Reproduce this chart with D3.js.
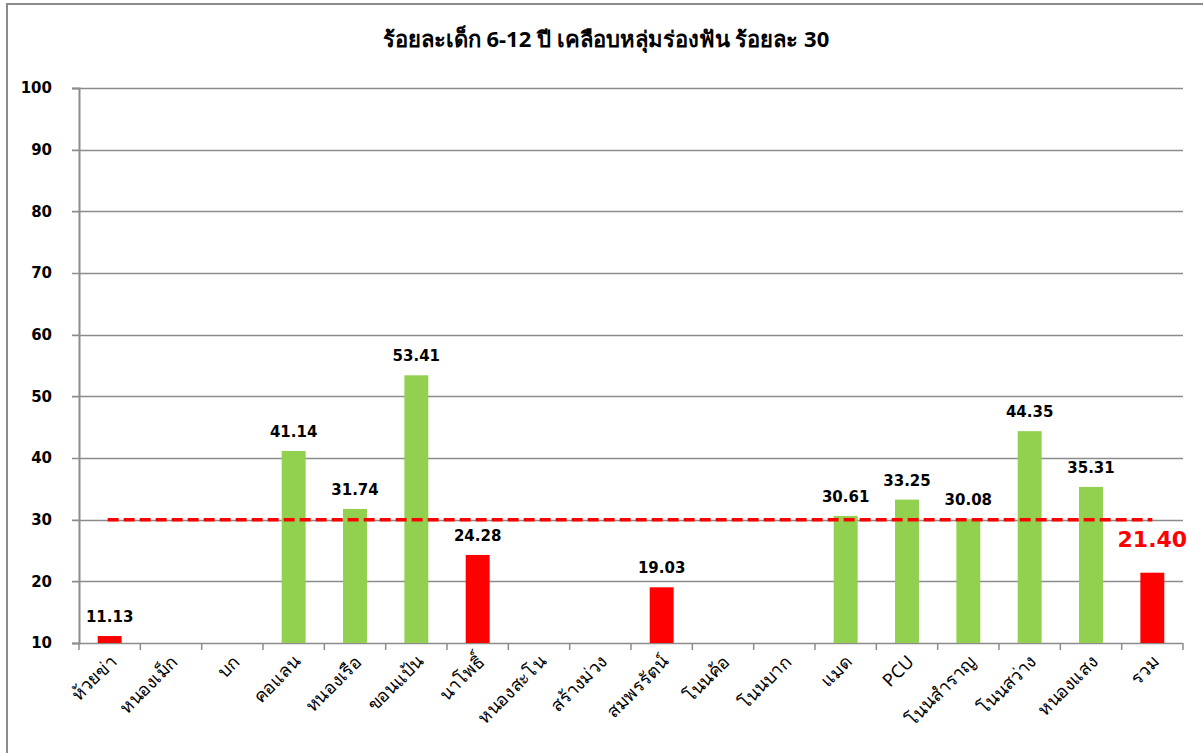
<!DOCTYPE html>
<html>
<head>
<meta charset="utf-8">
<script src="https://cdn.jsdelivr.net/npm/d3@7"></script>
<style>
  body { margin: 0; background: #fff; }
  svg { display: block; font-family: Tahoma, "Noto Sans", "DejaVu Sans", sans-serif; }
  .num { font-family: "DejaVu Sans", sans-serif; }
</style>
</head>
<body>
<script>
// data
var categories = ['ห้วยข่า', 'หนองเม็ก', 'บก', 'คอแลน', 'หนองเรือ', 'ขอนแป้น', 'นาโพธิ์', 'หนองสะโน',
  'สร้างม่วง', 'สมพรรัตน์', 'โนนค้อ', 'โนนบาก', 'แมด', 'PCU', 'โนนสำราญ', 'โนนสว่าง', 'หนองแสง', 'รวม'];
var values = [11.13, null, null, 41.14, 31.74, 53.41, 24.28, null,
  null, 19.03, null, null, 30.61, 33.25, 30.08, 44.35, 35.31, 21.40];
var yTicks = [10, 20, 30, 40, 50, 60, 70, 80, 90, 100];
var target = 30;
var title = 'ร้อยละเด็ก 6-12 ปี เคลือบหลุ่มร่องฟัน ร้อยละ 30';

var W = 1203, H = 753;
var m = {left: 79, right: 20, top: 88, bottom: 110};

var svg = d3.select('body').append('svg')
    .attr('width', W)
    .attr('height', H);

// outer frame (runs off right and bottom)
svg.append('rect')
    .attr('x', 7).attr('y', 4)
    .attr('width', W + 10).attr('height', H + 10)
    .attr('fill', 'none')
    .attr('stroke', '#8c8c8c')
    .attr('stroke-width', 2);

svg.append('text')
    .attr('x', 606).attr('y', 47)
    .attr('text-anchor', 'middle')
    .style('font-size', '22px')
    .style('font-weight', 'bold')
    .text(title);

var x = d3.scaleBand()
    .domain(categories)
    .range([m.left, W - m.right])
    .paddingInner(0.61)
    .paddingOuter(0.305);

var y = d3.scaleLinear()
    .domain([10, 100])
    .range([H - m.bottom, m.top]);

// gridlines
svg.append('g').selectAll('line')
    .data(yTicks)
    .enter().append('line')
    .attr('x1', m.left - 7)
    .attr('x2', W - m.right)
    .attr('y1', function(d){ return Math.round(y(d)) + 0.5; })
    .attr('y2', function(d){ return Math.round(y(d)) + 0.5; })
    .attr('stroke', '#8c8c8c')
    .attr('stroke-width', 1.5);

// y axis
var yAxis = svg.append('g')
    .attr('transform', 'translate(' + m.left + ',0)')
    .call(d3.axisLeft(y).tickValues(yTicks).tickSize(7).tickPadding(20));
yAxis.select('.domain').attr('stroke', '#8c8c8c').attr('stroke-width', 2);
yAxis.selectAll('.tick line').attr('stroke', '#8c8c8c');
yAxis.selectAll('text')
    .attr('class', 'num')
    .style('font-size', '15px')
    .style('font-weight', 'bold')
    .attr('fill', '#000');

// x axis ticks between categories
var step = x.step();
var tickPos = d3.range(categories.length + 1).map(function(i){ return m.left + i * step; });
svg.append('g').selectAll('line')
    .data(tickPos)
    .enter().append('line')
    .attr('x1', function(d){ return d; })
    .attr('x2', function(d){ return d; })
    .attr('y1', y(10))
    .attr('y2', y(10) + 7)
    .attr('stroke', '#8c8c8c')
    .attr('stroke-width', 1.5);

// x labels at -45 degrees, written as a matrix
var c45 = Math.SQRT1_2;
svg.append('g').selectAll('text')
    .data(categories)
    .enter().append('text')
    .attr('transform', function(d){
        var cx = x(d) + x.bandwidth() / 2 + 8;
        var cy = y(10) + 20;
        return 'matrix(' + c45 + ',' + (-c45) + ',' + c45 + ',' + c45 + ',' + cx + ',' + cy + ')';
    })
    .attr('text-anchor', 'end')
    .style('font-size', '18px')
    .attr('fill', '#000')
    .text(function(d){ return d; });

// bars
var data = categories.map(function(c, i){ return {cat: c, v: values[i]}; })
    .filter(function(d){ return d.v !== null; });

function barColor(d){ return d.v < target ? '#ff0000' : '#92d050'; }

svg.append('g').selectAll('rect')
    .data(data)
    .enter().append('rect')
    .attr('x', function(d){ return x(d.cat); })
    .attr('y', function(d){ return y(d.v); })
    .attr('width', x.bandwidth())
    .attr('height', function(d){ return y(10) - y(d.v); })
    .attr('fill', barColor);

// value labels (the total gets the big red one)
svg.append('g').selectAll('text')
    .data(data.filter(function(d){ return d.cat !== 'รวม'; }))
    .enter().append('text')
    .attr('class', 'num')
    .attr('x', function(d){ return x(d.cat) + x.bandwidth() / 2; })
    .attr('y', function(d){ return y(d.v) - 14; })
    .attr('text-anchor', 'middle')
    .style('font-size', '15px')
    .style('font-weight', 'bold')
    .text(function(d){ return d.v.toFixed(2); });

var total = data[data.length - 1];
svg.append('text')
    .attr('class', 'num')
    .attr('x', x(total.cat) + x.bandwidth() / 2)
    .attr('y', y(total.v) - 26)
    .attr('text-anchor', 'middle')
    .style('font-size', '22px')
    .style('font-weight', 'bold')
    .attr('fill', '#ff0000')
    .text(total.v.toFixed(2));

// target line
svg.append('line')
    .attr('x1', x(categories[0]) + x.bandwidth() / 2 - 2)
    .attr('x2', x(categories[categories.length - 1]) + x.bandwidth() / 2)
    .attr('y1', y(target))
    .attr('y2', y(target))
    .attr('stroke', '#ff0000')
    .attr('stroke-width', 3.5)
    .attr('stroke-dasharray', '11,5');
</script>
</body>
</html>
